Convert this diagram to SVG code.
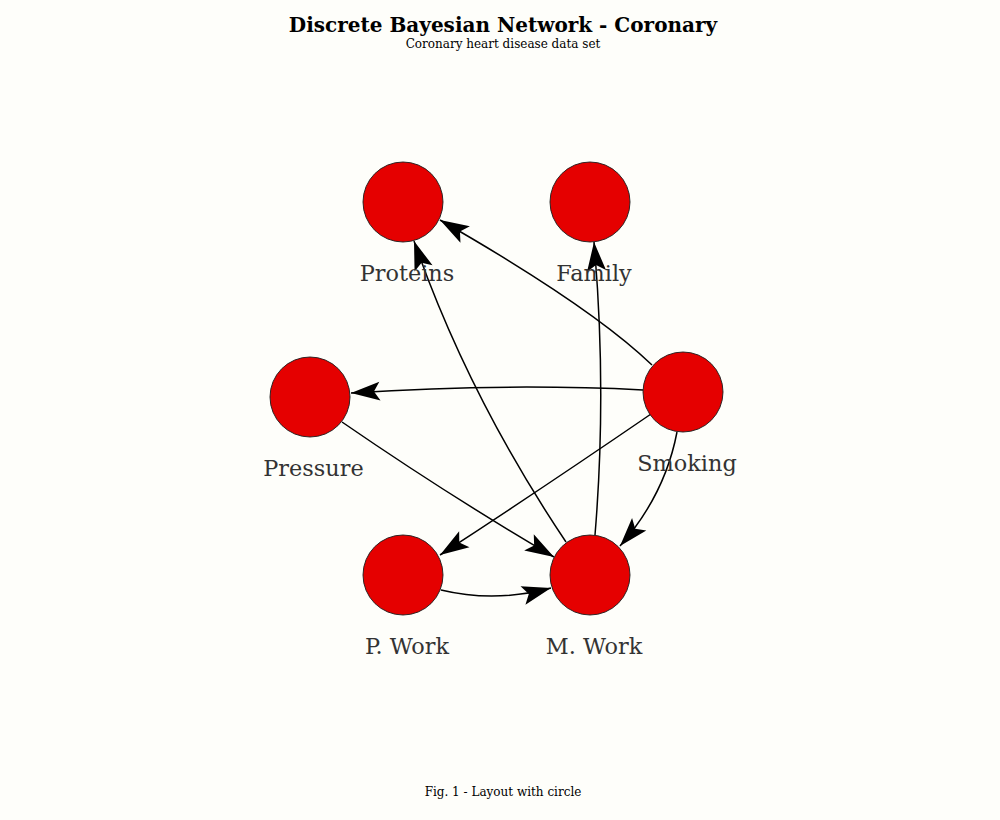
<svg xmlns="http://www.w3.org/2000/svg" width="1000" height="820" viewBox="0 0 1000 820">
<style>
.title{font-family:"DejaVu Serif",serif;font-weight:bold;font-size:20px;fill:#000;text-anchor:middle}
.sub{font-family:"DejaVu Serif",serif;font-size:12px;fill:#000;text-anchor:middle}
.node{fill:#e50000;stroke:#1a1a1a;stroke-width:0.9}
.lbl{font-family:"DejaVu Serif",serif;font-size:22.4px;fill:#333;text-anchor:middle}
.edge{fill:none;stroke:#000;stroke-width:1.5;marker-end:url(#arr)}
</style>
<defs>
<marker id="arr" markerUnits="userSpaceOnUse" markerWidth="40" markerHeight="40" refX="0" refY="0" orient="auto" overflow="visible">
<path d="M0,0 L-29,-9.5 L-23,0 L-29,9.5 Z" fill="#000"/>
</marker>
</defs>
<rect width="1000" height="820" fill="#fefefa"/>
<text class="title" x="503" y="31.5">Discrete Bayesian Network - Coronary</text>
<text class="sub" x="503" y="48">Coronary heart disease data set</text>
<g id="connectors">
<path class="edge" d="M652,365 Q592,307 440,220"/>
<path class="edge" d="M643,390 Q505,383 351,393"/>
<path class="edge" d="M651,414 Q540,490 440,555"/>
<path class="edge" d="M677,432 Q665,495 620,546"/>
<path class="edge" d="M342,422 Q448,495 554,557"/>
<path class="edge" d="M441,590 Q495,603 551,588"/>
<path class="edge" d="M566,542 Q468,396 414,241"/>
<path class="edge" d="M595,535 Q607,390 594,242"/>
</g>
<g id="node-proteins"><circle class="node" cx="403" cy="202" r="40"/><text class="lbl" x="407" y="281">Proteins</text></g>
<g id="node-family"><circle class="node" cx="590" cy="202" r="40"/><text class="lbl" x="594" y="281">Family</text></g>
<g id="node-smoking"><circle class="node" cx="683" cy="392" r="40"/><text class="lbl" x="687" y="471">Smoking</text></g>
<g id="node-pressure"><circle class="node" cx="310" cy="397" r="40"/><text class="lbl" x="313.5" y="476">Pressure</text></g>
<g id="node-pwork"><circle class="node" cx="403" cy="575" r="40"/><text class="lbl" x="407" y="654">P. Work</text></g>
<g id="node-mwork"><circle class="node" cx="590" cy="575" r="40"/><text class="lbl" x="594" y="654">M. Work</text></g>
<text class="sub" x="503" y="796">Fig. 1 - Layout with circle</text>
</svg>
